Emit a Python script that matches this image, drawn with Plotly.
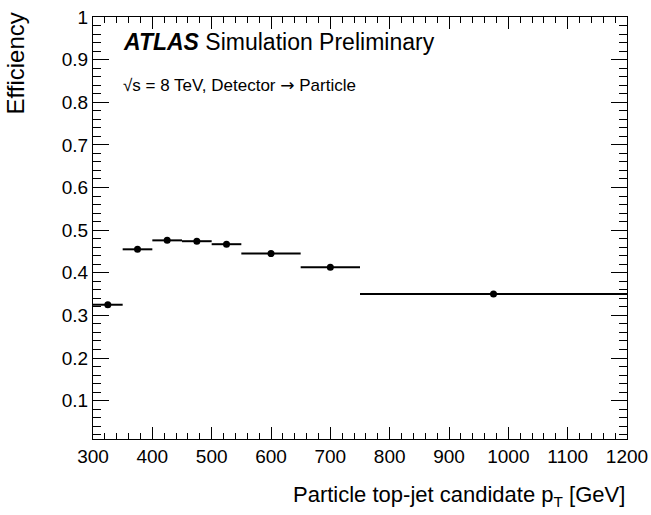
import plotly.graph_objects as go

# Particle-level top-jet candidate pT bins [GeV] and efficiency per bin
bin_low = [300, 350, 400, 450, 500, 550, 650, 750]
bin_high = [350, 400, 450, 500, 550, 650, 750, 1200]
efficiency = [0.325, 0.455, 0.476, 0.474, 0.467, 0.445, 0.413, 0.350]

y_tick_vals = [0.1, 0.2, 0.3, 0.4, 0.5, 0.6, 0.7, 0.8, 0.9, 1.0]
y_tick_text = ["0.1", "0.2", "0.3", "0.4", "0.5", "0.6", "0.7", "0.8", "0.9", "1"]
x_tick_vals = [300, 400, 500, 600, 700, 800, 900, 1000, 1100, 1200]

centers = [(lo + hi) / 2 for lo, hi in zip(bin_low, bin_high)]
half_widths = [(hi - lo) / 2 for lo, hi in zip(bin_low, bin_high)]

FONT = "Liberation Sans, Arial, Helvetica, sans-serif"

fig = go.Figure()
fig.add_trace(go.Scatter(
    x=centers,
    y=efficiency,
    mode="markers",
    marker=dict(color="black", size=7, symbol="circle"),
    error_x=dict(type="data", array=half_widths, color="black",
                 thickness=2, width=0),
    showlegend=False,
    hoverinfo="x+y",
))

axis_common = dict(
    showline=True, linecolor="black", linewidth=1, mirror="ticks",
    ticks="inside", tickcolor="black", tickwidth=1,
    showgrid=False, zeroline=False, automargin=False,
    tickfont=dict(family=FONT, size=19, color="black"),
)

fig.update_xaxes(
    range=[300, 1200],
    tickvals=x_tick_vals,
    ticklen=12,
    minor=dict(ticks="inside", ticklen=6, dtick=20, tickcolor="black",
               showgrid=False),
    **axis_common,
)
fig.update_yaxes(
    range=[0.01, 1.0],
    tickvals=y_tick_vals,
    ticktext=y_tick_text,
    ticklen=16,
    minor=dict(ticks="inside", ticklen=8, dtick=0.02, tick0=0,
               tickcolor="black", showgrid=False),
    **axis_common,
)

fig.add_annotation(
    xref="paper", yref="paper", x=0.052, y=0.94, xanchor="left", yanchor="middle",
    text="<b><i>ATLAS</i></b> Simulation Preliminary",
    showarrow=False, font=dict(family=FONT, size=23, color="black"),
)
fig.add_annotation(
    xref="paper", yref="paper", x=0.052, y=0.84, xanchor="left", yanchor="middle",
    text="√s = 8 TeV, Detector <span style='font-family:DejaVu Sans'>→</span> Particle",
    showarrow=False, font=dict(family=FONT, size=17, color="black"),
)
# Axis titles aligned to the axis ends
fig.add_annotation(
    xref="paper", yref="paper", x=1.0, y=-0.135, xanchor="right", yanchor="middle",
    text="Particle top-jet candidate p<sub>T</sub> [GeV]",
    showarrow=False, font=dict(family=FONT, size=22, color="black"),
)
fig.add_annotation(
    xref="paper", yref="paper", x=-0.146, y=0.89, xanchor="center", yanchor="middle",
    text="Efficiency", textangle=-90,
    showarrow=False, font=dict(family=FONT, size=24, color="black"),
)

fig.update_layout(
    width=651, height=515,
    margin=dict(l=93, r=24, t=17, b=76),
    paper_bgcolor="white", plot_bgcolor="white",
)

fig.write_html("out.html")
